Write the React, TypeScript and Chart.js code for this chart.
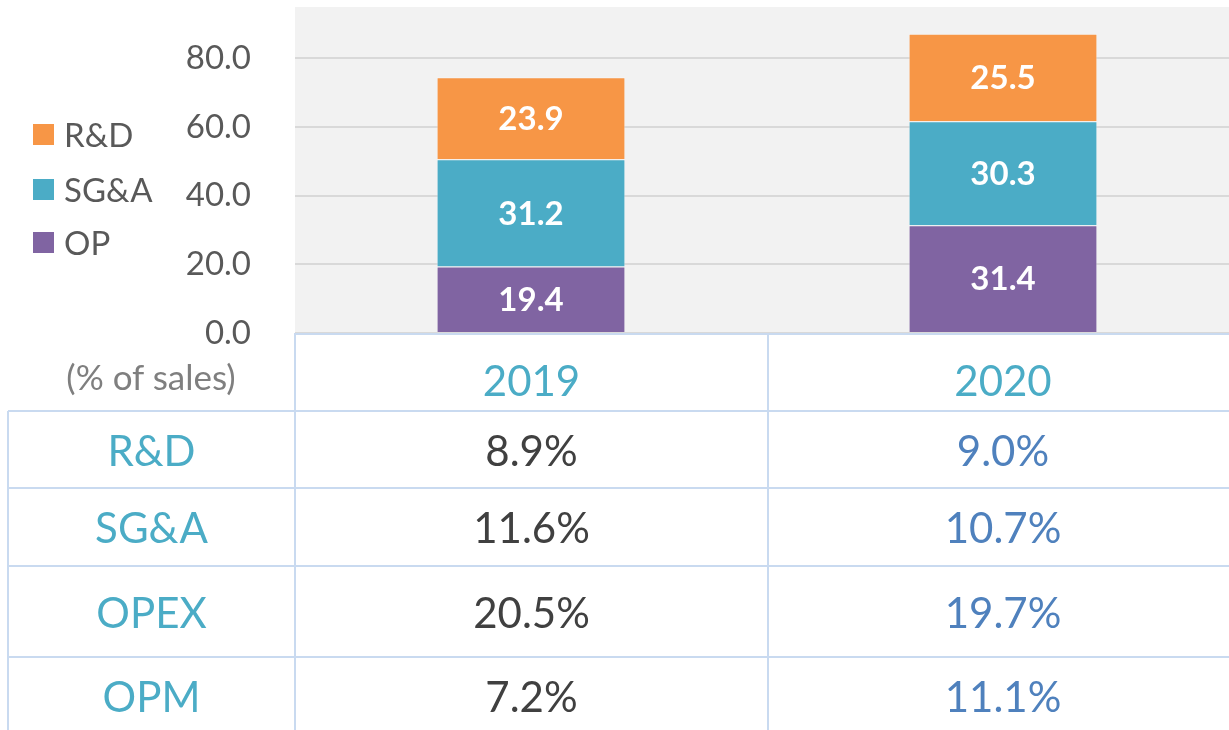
import React, { useEffect, useRef } from "react";
import { Chart, registerables } from "chart.js";

Chart.register(...registerables);

const categories = ["2019", "2020"];
const opValues = [19.4, 31.4];
const sgaValues = [31.2, 30.3];
const rdValues = [23.9, 25.5];
const yTickValues = [0, 20, 40, 60, 80];

const tableRowLabels = ["R&D", "SG&A", "OPEX", "OPM"];
const table2019 = ["8.9%", "11.6%", "20.5%", "7.2%"];
const table2020 = ["9.0%", "10.7%", "19.7%", "11.1%"];
const unitLabel = "(% of sales)";

const COLORS = { op: "#8064a2", sga: "#4bacc6", rd: "#f79646" };
const FONT = "Lato, 'Open Sans', sans-serif";

const bgPlugin = {
  id: "plotBg",
  beforeDraw(chart: any) {
    const { ctx, chartArea } = chart;
    ctx.save();
    ctx.fillStyle = "#f2f2f2";
    ctx.fillRect(chartArea.left, chartArea.top, chartArea.right - chartArea.left, chartArea.bottom - chartArea.top);
    ctx.restore();
  },
};

const labelPlugin = {
  id: "barLabels",
  afterDatasetsDraw(chart: any) {
    const { ctx } = chart;
    ctx.save();
    ctx.fillStyle = "#ffffff";
    ctx.font = `bold 33px ${FONT}`;
    ctx.textAlign = "center";
    ctx.textBaseline = "middle";
    chart.data.datasets.forEach((ds: any, i: number) => {
      const meta = chart.getDatasetMeta(i);
      meta.data.forEach((bar: any, j: number) => {
        const v = ds.data[j];
        const y = (bar.y + bar.base) / 2;
        ctx.fillText(Number(v).toFixed(1), bar.x, y + 1);
      });
    });
    ctx.restore();
  },
};

export default function App() {
  const canvasRef = useRef<HTMLCanvasElement>(null);

  useEffect(() => {
    if (!canvasRef.current) return;
    const chart = new Chart(canvasRef.current, {
      type: "bar",
      data: {
        labels: categories,
        datasets: [
          { label: "OP", data: opValues, backgroundColor: COLORS.op, borderColor: "rgba(255,255,255,0.35)", borderWidth: 1 },
          { label: "SG&A", data: sgaValues, backgroundColor: COLORS.sga, borderColor: "rgba(255,255,255,0.35)", borderWidth: 1 },
          { label: "R&D", data: rdValues, backgroundColor: COLORS.rd, borderColor: "rgba(255,255,255,0.35)", borderWidth: 1 },
        ],
      },
      options: {
        responsive: false,
        animation: false,
        maintainAspectRatio: false,
        layout: { padding: { left: 0, top: 7, right: 1, bottom: 47 } },
        datasets: { bar: { barPercentage: 0.4, categoryPercentage: 1 } },
        plugins: { legend: { display: false }, tooltip: { enabled: false } },
        scales: {
          x: { stacked: true, display: false },
          y: {
            stacked: true,
            min: 0,
            max: 95,
            afterBuildTicks: (scale: any) => {
              scale.ticks = yTickValues.map((v) => ({ value: v }));
            },
            afterFit: (scale: any) => {
              scale.width = 295;
              scale.paddingTop = 0;
              scale.paddingBottom = 0;
            },
            ticks: {
              padding: 44,
              color: "#595959",
              font: { family: FONT, size: 33 },
              callback: (v: any) => Number(v).toFixed(1),
            },
            grid: { color: "#d9d9d9", lineWidth: 2, drawTicks: false },
            border: { display: false },
          },
        },
      },
      plugins: [bgPlugin, labelPlugin],
    });
    return () => chart.destroy();
  }, []);

  const lineColor = "#c9daf0";
  const rowTops = [411, 488, 566, 657];
  const rowBottoms = [488, 566, 657, 740];
  const colCenters = [151.5, 531.5, 1003];

  const legendItems = [
    { label: "R&D", color: COLORS.rd, y: 134 },
    { label: "SG&A", color: COLORS.sga, y: 189 },
    { label: "OP", color: COLORS.op, y: 242 },
  ];

  const cell = (text: string, cx: number, top: number, bottom: number, color: string, key: string, shift = 0) => (
    <div
      key={key}
      style={{
        position: "absolute",
        left: cx - 150,
        width: 300,
        top: top + shift,
        height: bottom - top,
        display: "flex",
        alignItems: "center",
        justifyContent: "center",
        color,
        fontFamily: FONT,
        fontSize: 42,
        lineHeight: 1,
        whiteSpace: "nowrap",
      }}
    >
      {text}
    </div>
  );

  return (
    <div style={{ position: "absolute", left: 0, top: 0, width: 1229, height: 730, overflow: "hidden", background: "#fff" }}>
      <canvas ref={canvasRef} width={1240} height={380} style={{ position: "absolute", left: 0, top: 0, width: 1240, height: 380 }} />
      {legendItems.map((it) => (
        <div key={it.label} style={{ position: "absolute", left: 33, top: it.y - 20, height: 40, display: "flex", alignItems: "center" }}>
          <div style={{ width: 21, height: 21, background: it.color }} />
          <span style={{ marginLeft: 10, fontFamily: FONT, fontSize: 33, color: "#595959", lineHeight: 1 }}>{it.label}</span>
        </div>
      ))}
      <div style={{ position: "absolute", left: 0, width: 302, top: 356, height: 40, display: "flex", alignItems: "center", justifyContent: "center", fontFamily: FONT, fontSize: 35, color: "#7f7f7f", whiteSpace: "nowrap" }}>
        {unitLabel}
      </div>
      {/* table lines */}
      <div style={{ position: "absolute", left: 295, top: 333, width: 960, height: 2, background: lineColor }} />
      {rowTops.map((t, i) => (
        <div key={"h" + i} style={{ position: "absolute", left: 8, top: t - 1, width: 1240, height: 2, background: lineColor }} />
      ))}
      <div style={{ position: "absolute", left: 7, top: 411, width: 2, height: 330, background: lineColor }} />
      <div style={{ position: "absolute", left: 294, top: 333, width: 2, height: 410, background: lineColor }} />
      <div style={{ position: "absolute", left: 767, top: 333, width: 2, height: 410, background: lineColor }} />
      {/* header */}
      {cell(categories[0], colCenters[1], 334, 411, "#4bacc6", "hd0", 7)}
      {cell(categories[1], colCenters[2], 334, 411, "#4bacc6", "hd1", 7)}
      {tableRowLabels.map((lab, i) => (
        <React.Fragment key={lab}>
          {cell(lab, colCenters[0], rowTops[i], rowBottoms[i] - (i === 3 ? 5 : 0), "#4bacc6", "l" + i)}
          {cell(table2019[i], colCenters[1], rowTops[i], rowBottoms[i] - (i === 3 ? 5 : 0), "#404040", "a" + i)}
          {cell(table2020[i], colCenters[2], rowTops[i], rowBottoms[i] - (i === 3 ? 5 : 0), "#4f81bd", "b" + i)}
        </React.Fragment>
      ))}
    </div>
  );
}
